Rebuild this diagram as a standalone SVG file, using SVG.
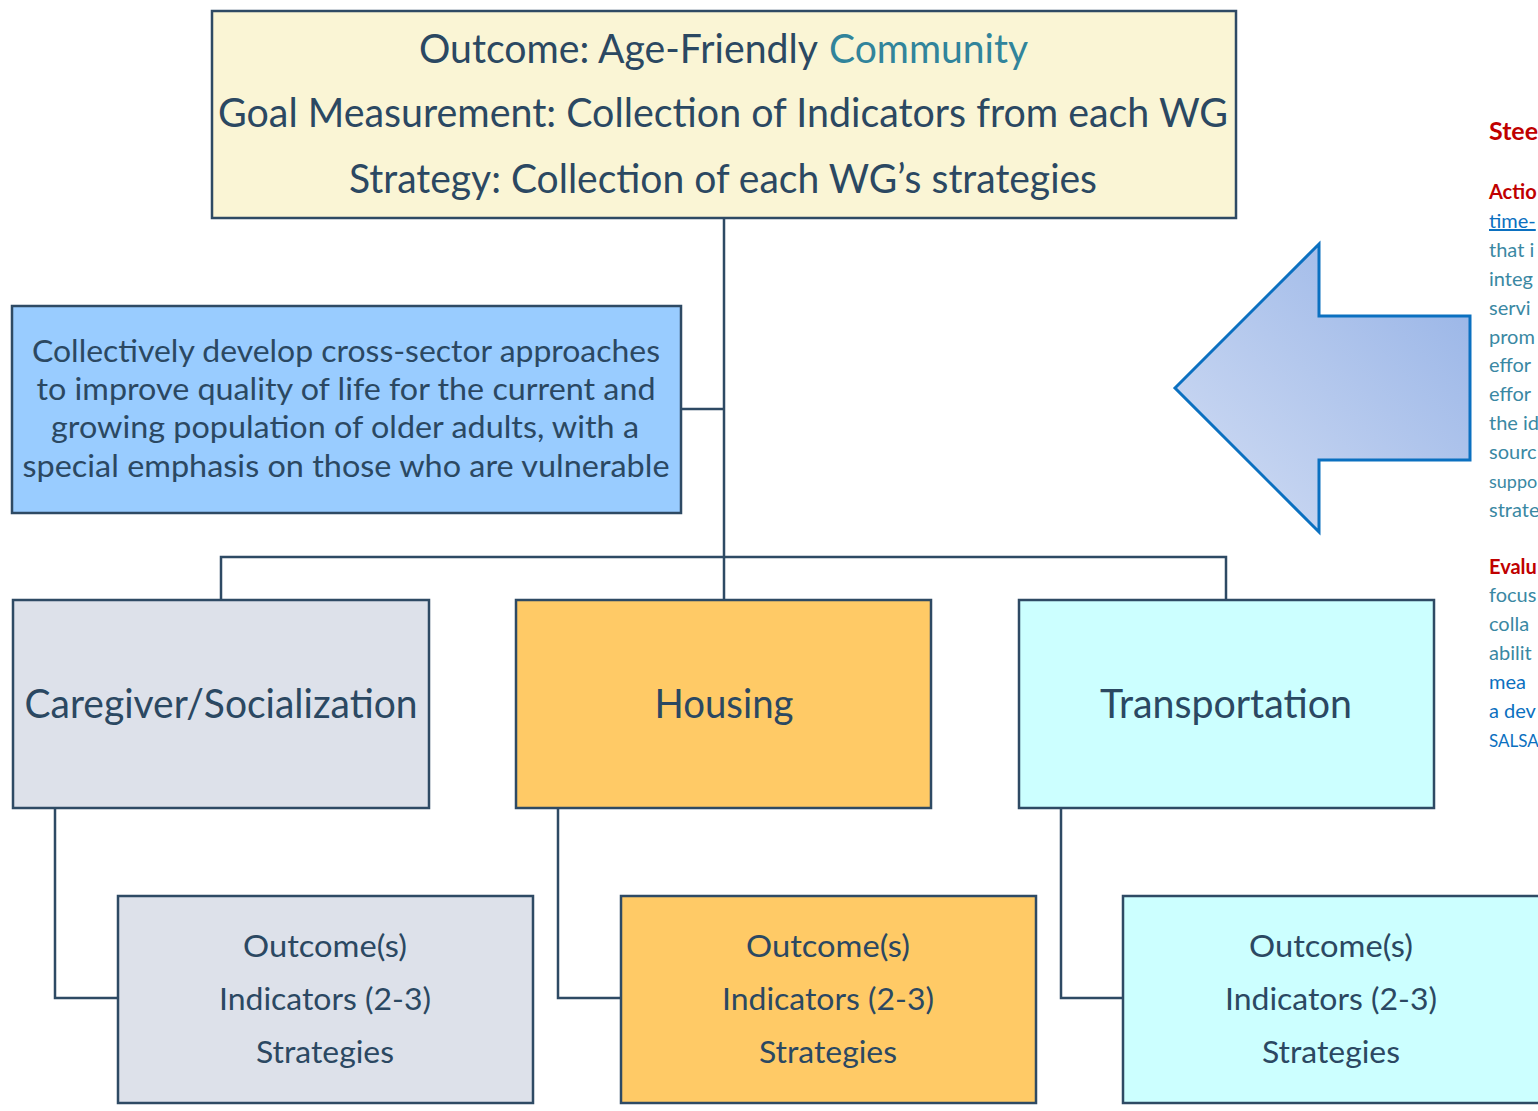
<svg xmlns="http://www.w3.org/2000/svg" width="1538" height="1111" viewBox="0 0 1538 1111">
<defs>
<linearGradient id="ag" x1="0" y1="1" x2="1" y2="0">
<stop offset="0" stop-color="#D3DEF4"/>
<stop offset="1" stop-color="#95B2E6"/>
</linearGradient>
<style>
.box{stroke:#2E4A64;stroke-width:2.5}
.t{font-family:Lato,"Open Sans","Liberation Sans",sans-serif;fill:#2B4862;text-anchor:middle}
.big{font-size:40px}
.mid{font-size:31px}
.conn{fill:none;stroke:#2E4A64;stroke-width:2.5}
.r{font-family:Lato,"Open Sans","Liberation Sans",sans-serif;font-size:20px}
.red{fill:#C00000;font-weight:bold}
.teal{fill:#3A88A3}
.blue{fill:#0B70C0}
</style>
</defs>
<rect width="1538" height="1111" fill="#FFFFFF"/>
<g id="connectors">
<path class="conn" d="M724 218 V600 M681 409 H724 M221 600 V557 H1226 V600 M55 808 V998 H118 M558 808 V998 H621 M1061 808 V998 H1123"/>
</g>
<g id="outcome">
<rect class="box" x="212" y="11" width="1024" height="207" fill="#FAF5D5"/>
<text class="t big" x="419" y="63" style="text-anchor:start" textLength="399" lengthAdjust="spacingAndGlyphs">Outcome: Age-Friendly</text>
<text class="t big" x="829" y="63" style="text-anchor:start;fill:#31849B" textLength="199" lengthAdjust="spacingAndGlyphs">Community</text>
<text class="t big" x="723" y="127" textLength="1010" lengthAdjust="spacingAndGlyphs">Goal Measurement: Collection of Indicators from each WG</text>
<text class="t big" x="723" y="193" textLength="748" lengthAdjust="spacingAndGlyphs">Strategy: Collection of each WG’s strategies</text>
</g>
<g id="mission">
<rect class="box" x="12" y="306" width="669" height="207" fill="#99CCFF"/>
<text class="t mid" x="346" y="362" textLength="628" lengthAdjust="spacingAndGlyphs">Collectively develop cross-sector approaches</text>
<text class="t mid" x="346" y="400" textLength="619" lengthAdjust="spacingAndGlyphs">to improve quality of life for the current and</text>
<text class="t mid" x="345" y="438" textLength="588" lengthAdjust="spacingAndGlyphs">growing population of older adults, with a</text>
<text class="t mid" x="346" y="477" textLength="647" lengthAdjust="spacingAndGlyphs">special emphasis on those who are vulnerable</text>
</g>
<g id="caregiver">
<rect class="box" x="13" y="600" width="416" height="208" fill="#DDE1EA"/>
<text class="t big" x="221" y="718" textLength="393" lengthAdjust="spacingAndGlyphs">Caregiver/Socialization</text>
</g>
<g id="housing">
<rect class="box" x="516" y="600" width="415" height="208" fill="#FFCA66"/>
<text class="t big" x="724" y="718" textLength="139" lengthAdjust="spacingAndGlyphs">Housing</text>
</g>
<g id="transportation">
<rect class="box" x="1019" y="600" width="415" height="208" fill="#CCFFFF"/>
<text class="t big" x="1226" y="718" textLength="252" lengthAdjust="spacingAndGlyphs">Transportation</text>
</g>
<g id="caregiver-detail">
<rect class="box" x="118" y="896" width="415" height="207" fill="#DDE1EA"/>
<text class="t mid" x="325" y="957" textLength="164" lengthAdjust="spacingAndGlyphs">Outcome(s)</text>
<text class="t mid" x="325" y="1010" textLength="212" lengthAdjust="spacingAndGlyphs">Indicators (2-3)</text>
<text class="t mid" x="325" y="1063" textLength="138" lengthAdjust="spacingAndGlyphs">Strategies</text>
</g>
<g id="housing-detail">
<rect class="box" x="621" y="896" width="415" height="207" fill="#FFCA66"/>
<text class="t mid" x="828" y="957" textLength="164" lengthAdjust="spacingAndGlyphs">Outcome(s)</text>
<text class="t mid" x="828" y="1010" textLength="212" lengthAdjust="spacingAndGlyphs">Indicators (2-3)</text>
<text class="t mid" x="828" y="1063" textLength="138" lengthAdjust="spacingAndGlyphs">Strategies</text>
</g>
<g id="transportation-detail">
<rect class="box" x="1123" y="896" width="425" height="207" fill="#CCFFFF"/>
<text class="t mid" x="1331" y="957" textLength="164" lengthAdjust="spacingAndGlyphs">Outcome(s)</text>
<text class="t mid" x="1331" y="1010" textLength="212" lengthAdjust="spacingAndGlyphs">Indicators (2-3)</text>
<text class="t mid" x="1331" y="1063" textLength="138" lengthAdjust="spacingAndGlyphs">Strategies</text>
</g>
<g id="arrow">
<polygon points="1175,388 1319,244 1319,316 1470,316 1470,460 1319,460 1319,532" fill="url(#ag)" stroke="#0B70C0" stroke-width="3"/>
</g>
<g id="side-text">
<text class="r red" x="1489" y="140" style="font-size:25px">Stee</text>
<text class="r red" x="1489" y="199">Actio</text>
<text class="r blue" x="1489" y="228" text-decoration="underline">time-</text>
<text class="r teal" x="1489" y="257">that i</text>
<text class="r teal" x="1489" y="286">integ</text>
<text class="r teal" x="1489" y="315">servi</text>
<text class="r teal" x="1489" y="344">prom</text>
<text class="r teal" x="1489" y="372">effor</text>
<text class="r teal" x="1489" y="401">effor</text>
<text class="r teal" x="1489" y="430">the id</text>
<text class="r teal" x="1489" y="459">sourc</text>
<text class="r teal" x="1489" y="488" style="font-size:18px">suppo</text>
<text class="r teal" x="1489" y="517">strate</text>
<text class="r red" x="1489" y="574">Evalu</text>
<text class="r teal" x="1489" y="602">focus</text>
<text class="r teal" x="1489" y="631">colla</text>
<text class="r teal" x="1489" y="660">abilit</text>
<text class="r blue" x="1489" y="689">mea</text>
<text class="r blue" x="1489" y="718">a dev</text>
<text class="r blue" x="1489" y="747" style="font-size:17px">SALSA</text>
</g>
</svg>
